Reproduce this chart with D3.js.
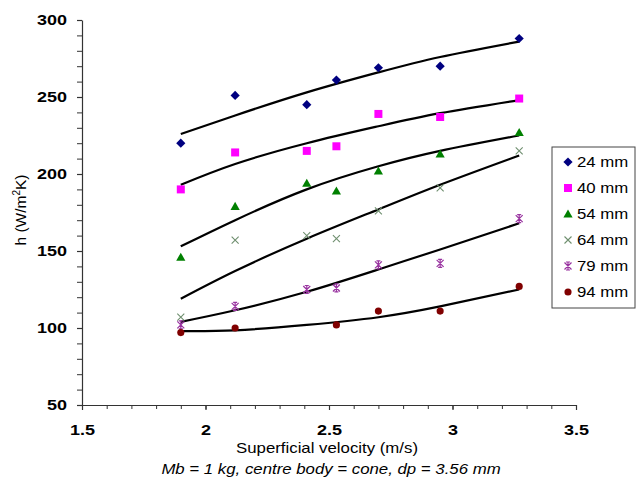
<!DOCTYPE html>
<html>
<head>
<meta charset="utf-8">
<script src="https://cdn.jsdelivr.net/npm/d3@7"></script>
<style>
  body { margin: 0; background: #fff; }
  text { font-family: Arial, "Liberation Sans", sans-serif; }
</style>
</head>
<body>
<div id="chart"></div>
<script>
// superficial velocity (m/s) where the measurements were taken
const velocity = [1.9, 2.12, 2.41, 2.53, 2.70, 2.95, 3.27];

// h (W/m2K) per column diameter, null = no point
const h24 = [220, 251, 245, 261, 269, 270, 288];
const h40 = [190, 214, 215, 218, 239, 237, 249];
const h54 = [146, 179, 194, 189, 202, 213, 227];
const h64 = [107, 157, 160, 158, 176, 191, 215];
const h79 = [102, 114, 125, 126, 141, 142, 171];
const h94 = [97, 100, null, 102, 111, 111, 127];

// trendlines
const trendX = [1.9, 2.12, 2.41, 2.70, 2.95, 3.27];
const t24 = [226, 238, 253, 266, 276, 286];
const t40 = [193, 206.5, 220, 231, 239.5, 248];
const t54 = [153, 170, 190, 205, 215, 225];
const t64 = [119, 137, 158, 177, 193, 212];
const t79 = [104, 111.5, 123.5, 138, 151, 168];
const t94 = [98, 98.5, 102, 107, 114, 125];

const labels = ["24 mm", "40 mm", "54 mm", "64 mm", "79 mm", "94 mm"];
const xTicks = [1.5, 2, 2.5, 3, 3.5];
const yTicks = [50, 100, 150, 200, 250, 300];

const series = [
    { name: labels[0], h: h24, trend: t24, symbol: "diamond", color: "#000080" },
    { name: labels[1], h: h40, trend: t40, symbol: "square", color: "#ff00ff" },
    { name: labels[2], h: h54, trend: t54, symbol: "triangle", color: "#008000" },
    { name: labels[3], h: h64, trend: t64, symbol: "x", color: "#6f8f6f" },
    { name: labels[4], h: h79, trend: t79, symbol: "star", color: "#9933a0" },
    { name: labels[5], h: h94, trend: t94, symbol: "circle", color: "#800000" }
];

// the original picture is a bit wider than tall, text looks stretched
const stretch = "scale(1.2,1)";

const width = 637, height = 477;
const plotLeft = 82, plotRight = 576, plotTop = 20, plotBottom = 405;

let svg = d3.select("#chart")
    .append("svg")
    .attr("width", width)
    .attr("height", height);

let x = d3.scaleLinear().domain([1.5, 3.5]).range([plotLeft, plotRight]);
let y = d3.scaleLinear().domain([50, 300]).range([plotBottom, plotTop]);

// minor ticks first, then the labelled axes on top
svg.append("g")
    .attr("transform", `translate(0,${plotBottom})`)
    .call(d3.axisBottom(x).tickValues(d3.range(15, 36).map(d => d / 10)).tickSize(4).tickFormat(""))
    .call(g => g.select(".domain").remove());
svg.append("g")
    .attr("transform", `translate(${plotLeft},0)`)
    .call(d3.axisLeft(y).tickValues(d3.range(50, 301, 10)).tickSize(5).tickFormat(""))
    .call(g => g.select(".domain").remove());

let xAxis = svg.append("g")
    .attr("transform", `translate(0,${plotBottom})`)
    .call(d3.axisBottom(x).tickValues(xTicks).tickSize(5).tickSizeOuter(0).tickPadding(14).tickFormat(d3.format("")));
let yAxis = svg.append("g")
    .attr("transform", `translate(${plotLeft},0)`)
    .call(d3.axisLeft(y).tickValues(yTicks).tickSize(5).tickSizeOuter(0).tickPadding(7.5));

[xAxis, yAxis].forEach(a => {
    a.selectAll("path, line").attr("stroke", "#333").attr("stroke-width", 1.2);
    a.selectAll("text")
        .attr("fill", "#000")
        .attr("transform", stretch)
        .style("font-size", "15px")
        .style("font-weight", "bold");
});
svg.selectAll("g line").attr("stroke", "#333");

// trendlines
let line = d3.line()
    .x((d, i) => x(trendX[i]))
    .y(d => y(d))
    .curve(d3.curveNatural);

svg.append("g").selectAll("path")
    .data(series)
    .join("path")
    .attr("d", s => line(s.trend))
    .attr("fill", "none")
    .attr("stroke", "#000")
    .attr("stroke-width", 2.2);

function drawMarker(g, s) {
    let p = g.append("path");
    switch (s.symbol) {
    case "diamond":
        p.attr("d", "M0,-4.6L4.6,0L0,4.6L-4.6,0Z").attr("fill", s.color);
        break;
    case "square":
        p.attr("d", d3.symbol(d3.symbolSquare, 64)()).attr("fill", s.color);
        break;
    case "triangle":
        p.attr("d", "M0,-4.5L4.6,3.6L-4.6,3.6Z").attr("fill", s.color);
        break;
    case "circle":
        p.attr("d", d3.symbol(d3.symbolCircle, 40)()).attr("fill", s.color);
        break;
    case "x":
        p.attr("d", "M-3.5,-3.5L3.5,3.5M-3.5,3.5L3.5,-3.5")
            .attr("fill", "none").attr("stroke", s.color).attr("stroke-width", 1.1);
        break;
    default:
        // excel style asterisk: an x with a vertical bar
        p.attr("d", "M-3.5,-3.5L3.5,3.5M-3.5,3.5L3.5,-3.5M0,-4L0,4M-2,-4L2,-4M-2,4L2,4")
            .attr("fill", "none").attr("stroke", s.color).attr("stroke-width", 1.2);
    }
}

// points
series.forEach(s => {
    s.h.forEach((v, i) => {
        if (v == null) return;
        let g = svg.append("g")
            .attr("transform", `translate(${x(velocity[i])},${y(v)})`);
        drawMarker(g, s);
    });
});

// legend
let legend = svg.append("g").attr("transform", "translate(552,147)");
legend.append("rect")
    .attr("width", 83)
    .attr("height", 161)
    .attr("fill", "#fff")
    .attr("stroke", "#444")
    .attr("stroke-width", 1);

series.forEach((s, i) => {
    let row = legend.append("g").attr("transform", `translate(16,${15 + i * 26})`);
    drawMarker(row, s);
    row.append("text")
        .attr("transform", `translate(9,5) ${stretch}`)
        .style("font-size", "14px")
        .text(s.name);
});

// axis titles
svg.append("text")
    .attr("transform", `translate(327,453) ${stretch}`)
    .attr("text-anchor", "middle")
    .style("font-size", "14px")
    .text("Superficial velocity (m/s)");

svg.append("text")
    .attr("transform", `translate(331,474) ${stretch}`)
    .attr("text-anchor", "middle")
    .style("font-size", "14px")
    .style("font-style", "italic")
    .text("Mb = 1 kg, centre body = cone, dp = 3.56 mm");

let ylab = svg.append("text")
    .attr("transform", "translate(26,210) rotate(-90)")
    .attr("text-anchor", "middle")
    .style("font-size", "15.5px");
ylab.append("tspan").text("h (W/m");
ylab.append("tspan").attr("dy", -6).style("font-size", "10px").text("2");
ylab.append("tspan").attr("dy", 6).text("K)");
</script>
</body>
</html>
